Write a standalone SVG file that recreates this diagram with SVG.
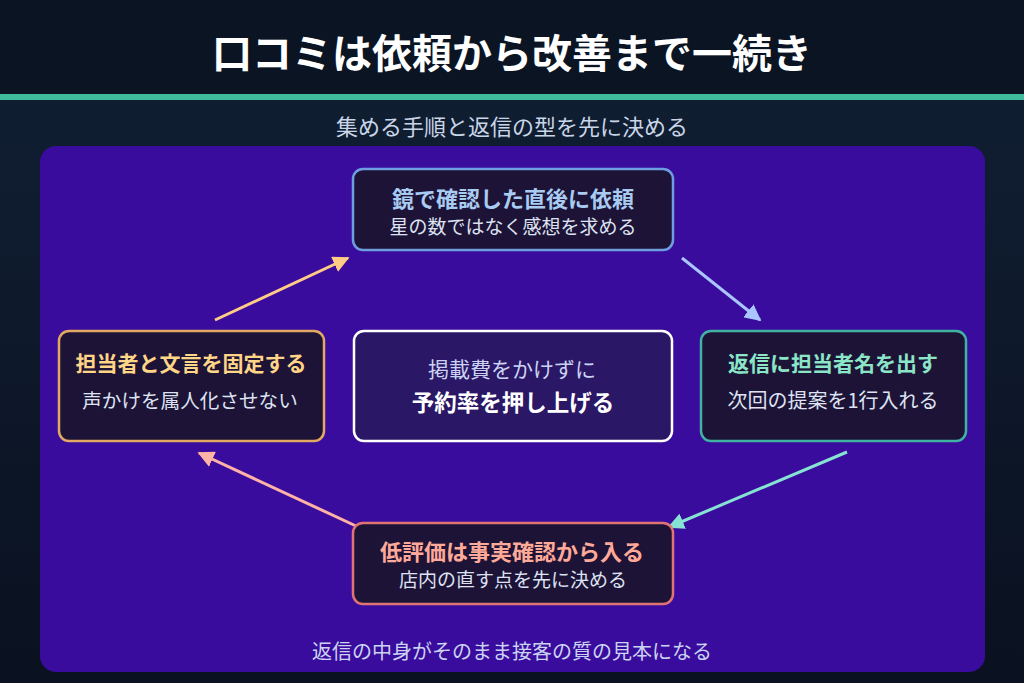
<svg xmlns="http://www.w3.org/2000/svg" width="1024" height="683" viewBox="0 0 1024 683">
<defs>
<linearGradient id="bg" x1="0" y1="0" x2="0" y2="1">
<stop offset="0" stop-color="#112035"/>
<stop offset="1" stop-color="#0a1120"/>
</linearGradient>
<marker id="mA" viewBox="0 0 10 10" refX="9" refY="5" markerWidth="5.5" markerHeight="5.5" orient="auto" markerUnits="strokeWidth"><path d="M0,0 L10,5 L0,10 z" fill="#ffcc88"/></marker>
<marker id="mB" viewBox="0 0 10 10" refX="9" refY="5" markerWidth="5.5" markerHeight="5.5" orient="auto" markerUnits="strokeWidth"><path d="M0,0 L10,5 L0,10 z" fill="#a9c6ff"/></marker>
<marker id="mC" viewBox="0 0 10 10" refX="9" refY="5" markerWidth="5.5" markerHeight="5.5" orient="auto" markerUnits="strokeWidth"><path d="M0,0 L10,5 L0,10 z" fill="#86e3d3"/></marker>
<marker id="mD" viewBox="0 0 10 10" refX="9" refY="5" markerWidth="5.5" markerHeight="5.5" orient="auto" markerUnits="strokeWidth"><path d="M0,0 L10,5 L0,10 z" fill="#ffb2a6"/></marker>
</defs>
<style>
text{font-family:"Noto Sans CJK JP","Noto Sans",sans-serif;text-anchor:middle;dominant-baseline:central}
.box{fill:#1d1336;stroke-width:2.5}
.t{font-size:21px;font-weight:700}
.s{font-size:19px;fill:#dde3f3}
.conn line{stroke-width:3;fill:none}
</style>
<rect width="1024" height="683" fill="url(#bg)"/>
<rect width="1024" height="94" fill="#0b1423"/>
<rect y="94" width="1024" height="6" fill="#3dbb9b"/>
<text x="512" y="51" font-size="40" font-weight="700" fill="#ffffff">口コミは依頼から改善まで一続き</text>
<text x="512" y="125" font-size="22" fill="#c9d6e8">集める手順と返信の型を先に決める</text>
<rect x="40" y="146" width="945" height="526" rx="16" fill="#3a0c9d"/>
<g class="conn">
<line x1="215" y1="320" x2="348" y2="258" stroke="#ffcc88" marker-end="url(#mA)"/>
<line x1="682" y1="258" x2="760" y2="320" stroke="#a9c6ff" marker-end="url(#mB)"/>
<line x1="847" y1="452" x2="669" y2="527" stroke="#86e3d3" marker-end="url(#mC)"/>
<line x1="356" y1="526" x2="199" y2="453" stroke="#ffb2a6" marker-end="url(#mD)"/>
</g>
<g id="node-top">
<rect class="box" x="353" y="169" width="320" height="81" rx="10" stroke="#6d9ee0"/>
<text class="t" x="513" y="197" font-size="22" fill="#a9cbf2" style="font-size:22px">鏡で確認した直後に依頼</text>
<text class="s" x="513" y="225">星の数ではなく感想を求める</text>
</g>
<g id="node-left">
<rect class="box" x="59" y="331" width="265" height="110" rx="10" stroke="#e2a962"/>
<text class="t" x="191" y="362" fill="#ffd587">担当者と文言を固定する</text>
<text class="s" x="190" y="399" style="font-size:19.6px">声かけを属人化させない</text>
</g>
<g id="node-right">
<rect class="box" x="701" y="331" width="265" height="110" rx="10" stroke="#3fb2a2"/>
<text class="t" x="833" y="362" fill="#8be6c8">返信に担当者名を出す</text>
<text class="s" x="833" y="399" style="font-size:20px">次回の提案を1行入れる</text>
</g>
<g id="node-center">
<rect x="354" y="331" width="318" height="110" rx="10" fill="#2a1766" stroke="#ffffff" stroke-width="2.5"/>
<text x="512" y="368" font-size="21" fill="#cbd3f2">掲載費をかけずに</text>
<text x="513" y="401" font-size="22.5" font-weight="700" fill="#ffffff">予約率を押し上げる</text>
</g>
<g id="node-bottom">
<rect class="box" x="353" y="523" width="320" height="81" rx="10" stroke="#e07474"/>
<text class="t" x="512" y="550" fill="#ffaa98" style="font-size:22px">低評価は事実確認から入る</text>
<text class="s" x="513" y="578">店内の直す点を先に決める</text>
</g>
<text x="512" y="650" font-size="20" fill="#cbd3f2">返信の中身がそのまま接客の質の見本になる</text>
</svg>
